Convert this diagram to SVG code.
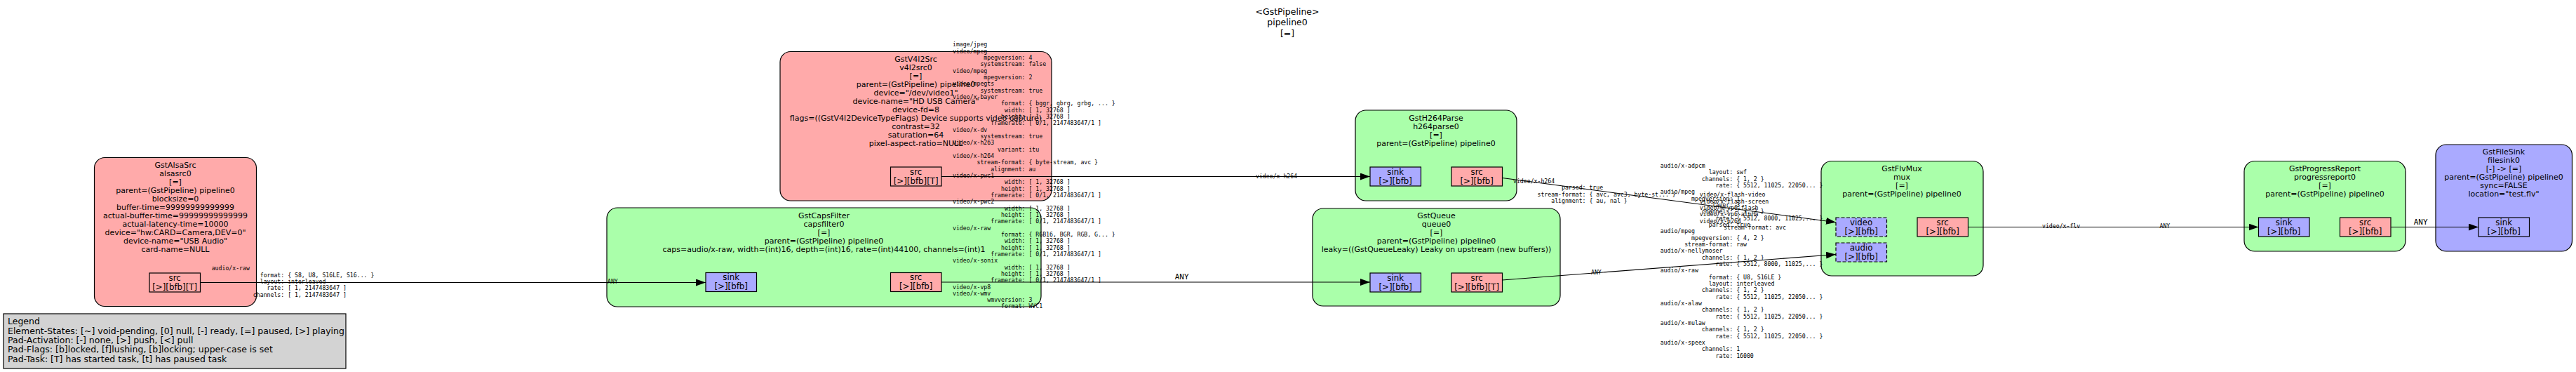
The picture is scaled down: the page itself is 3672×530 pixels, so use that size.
<svg xmlns="http://www.w3.org/2000/svg" width="3672" height="530" viewBox="0 0 3672 530">
<style>
.nb{stroke:#000;stroke-width:1.2}
.src{fill:#ffaaaa}.flt{fill:#aaffaa}.snk{fill:#aaaaff}
.pad{stroke:#000;stroke-width:1.2}
.dash{stroke-dasharray:5,2.5}
.t{font-family:"DejaVu Sans",sans-serif;font-size:11px;fill:#000;text-anchor:middle}
.g{font-family:"DejaVu Sans",sans-serif;font-size:12.5px;fill:#000}
.pt{font-family:"DejaVu Sans",sans-serif;font-size:11.8px;fill:#000;text-anchor:middle}
.c{font-family:"DejaVu Sans Mono",monospace;font-size:8.2px;fill:#000}
.l{font-family:"DejaVu Sans Mono",monospace;font-size:11px;fill:#000;text-anchor:middle}
.e{stroke:#000;stroke-width:1.1;fill:none}
</style>
<defs>
<marker id="arr" markerUnits="userSpaceOnUse" markerWidth="14" markerHeight="10" refX="14" refY="5" orient="auto" viewBox="0 0 14 10"><path d="M0,0 L14,5 L0,10 z" fill="#000"/></marker>
</defs>
<rect width="3672" height="530" fill="#fff"/>
<g id="title">
<text class="g" text-anchor="middle"><tspan x="1835" y="20.5">&lt;GstPipeline&gt;</tspan><tspan x="1835" y="36">pipeline0</tspan><tspan x="1835" y="51.5">[=]</tspan></text>
</g>
<g id="legend">
<rect x="5" y="447" width="488" height="78" fill="#d3d3d3" stroke="#000" stroke-width="1.2"/>
<text class="g"><tspan x="11" y="462.2">Legend</tspan><tspan x="11" y="475.6">Element-States: [~] void-pending, [0] null, [-] ready, [=] paused, [&gt;] playing</tspan><tspan x="11" y="489">Pad-Activation: [-] none, [&gt;] push, [&lt;] pull</tspan><tspan x="11" y="502.4">Pad-Flags: [b]locked, [f]lushing, [b]locking; upper-case is set</tspan><tspan x="11" y="515.8">Pad-Task: [T] has started task, [t] has paused task</tspan></text>
</g>
<g id="alsasrc0">
<rect class="nb src" x="134.5" y="224.5" width="231" height="212" rx="15"/>
<text class="t"><tspan x="250" y="239">GstAlsaSrc</tspan><tspan x="250" y="251">alsasrc0</tspan><tspan x="250" y="263">[=]</tspan><tspan x="250" y="275">parent=(GstPipeline) pipeline0</tspan><tspan x="250" y="287">blocksize=0</tspan><tspan x="250" y="299">buffer-time=99999999999999</tspan><tspan x="250" y="311">actual-buffer-time=99999999999999</tspan><tspan x="250" y="323">actual-latency-time=10000</tspan><tspan x="250" y="335">device="hw:CARD=Camera,DEV=0"</tspan><tspan x="250" y="347">device-name="USB Audio"</tspan><tspan x="250" y="359">card-name=NULL</tspan></text>
<rect class="pad src" x="213" y="389" width="72.5" height="27"/>
<text class="pt"><tspan x="249.2" y="399.7">src</tspan><tspan x="249.2" y="412.7">[&gt;][bfb][T]</tspan></text>
</g>
<g id="v4l2src0">
<rect class="nb src" x="1112" y="73.5" width="387" height="212.5" rx="15"/>
<text class="t"><tspan x="1305.5" y="88">GstV4l2Src</tspan><tspan x="1305.5" y="100">v4l2src0</tspan><tspan x="1305.5" y="112">[=]</tspan><tspan x="1305.5" y="124">parent=(GstPipeline) pipeline0</tspan><tspan x="1305.5" y="136">device="/dev/video1"</tspan><tspan x="1305.5" y="148">device-name="HD USB Camera"</tspan><tspan x="1305.5" y="160">device-fd=8</tspan><tspan x="1305.5" y="172">flags=((GstV4l2DeviceTypeFlags) Device supports video capture)</tspan><tspan x="1305.5" y="184">contrast=32</tspan><tspan x="1305.5" y="196">saturation=64</tspan><tspan x="1305.5" y="208">pixel-aspect-ratio=NULL</tspan></text>
<rect class="pad src" x="1269.5" y="238" width="72.5" height="27"/>
<text class="pt"><tspan x="1305.7" y="248.7">src</tspan><tspan x="1305.7" y="261.7">[&gt;][bfb][T]</tspan></text>
</g>
<g id="capsfilter0">
<rect class="nb flt" x="865" y="296" width="619" height="141" rx="15"/>
<text class="t"><tspan x="1174.5" y="311.3">GstCapsFilter</tspan><tspan x="1174.5" y="323.3">capsfilter0</tspan><tspan x="1174.5" y="335.3">[=]</tspan><tspan x="1174.5" y="347.3">parent=(GstPipeline) pipeline0</tspan><tspan x="1174.5" y="359.3">caps=audio/x-raw, width=(int)16, depth=(int)16, rate=(int)44100, channels=(int)1</tspan></text>
<rect class="pad snk" x="1006" y="388.5" width="72.5" height="27"/>
<text class="pt"><tspan x="1042.2" y="399.2">sink</tspan><tspan x="1042.2" y="412.2">[&gt;][bfb]</tspan></text>
<rect class="pad src" x="1269.5" y="388.5" width="72.5" height="27"/>
<text class="pt"><tspan x="1305.7" y="399.2">src</tspan><tspan x="1305.7" y="412.2">[&gt;][bfb]</tspan></text>
</g>
<g id="h264parse0">
<rect class="nb flt" x="1932" y="157" width="230" height="129" rx="15"/>
<text class="t"><tspan x="2047" y="172">GstH264Parse</tspan><tspan x="2047" y="184">h264parse0</tspan><tspan x="2047" y="196">[=]</tspan><tspan x="2047" y="208">parent=(GstPipeline) pipeline0</tspan></text>
<rect class="pad snk" x="1953" y="238" width="72.5" height="27"/>
<text class="pt"><tspan x="1989.2" y="248.7">sink</tspan><tspan x="1989.2" y="261.7">[&gt;][bfb]</tspan></text>
<rect class="pad src" x="2069" y="238" width="72.5" height="27"/>
<text class="pt"><tspan x="2105.2" y="248.7">src</tspan><tspan x="2105.2" y="261.7">[&gt;][bfb]</tspan></text>
</g>
<g id="queue0">
<rect class="nb flt" x="1871" y="297" width="353" height="139" rx="15"/>
<text class="t"><tspan x="2047.5" y="311">GstQueue</tspan><tspan x="2047.5" y="323">queue0</tspan><tspan x="2047.5" y="335">[=]</tspan><tspan x="2047.5" y="347">parent=(GstPipeline) pipeline0</tspan><tspan x="2047.5" y="359">leaky=((GstQueueLeaky) Leaky on upstream (new buffers))</tspan></text>
<rect class="pad snk" x="1953" y="389" width="72.5" height="27"/>
<text class="pt"><tspan x="1989.2" y="399.7">sink</tspan><tspan x="1989.2" y="412.7">[&gt;][bfb]</tspan></text>
<rect class="pad src" x="2069" y="389" width="72.5" height="27"/>
<text class="pt"><tspan x="2105.2" y="399.7">src</tspan><tspan x="2105.2" y="412.7">[&gt;][bfb][T]</tspan></text>
</g>
<g id="mux">
<rect class="nb flt" x="2596" y="229.5" width="231" height="163.5" rx="15"/>
<text class="t"><tspan x="2711" y="244">GstFlvMux</tspan><tspan x="2711" y="256">mux</tspan><tspan x="2711" y="268">[=]</tspan><tspan x="2711" y="280">parent=(GstPipeline) pipeline0</tspan></text>
<rect class="pad snk dash" x="2617" y="310" width="72.5" height="27"/>
<text class="pt"><tspan x="2653.2" y="320.7">video</tspan><tspan x="2653.2" y="333.7">[&gt;][bfb]</tspan></text>
<rect class="pad snk dash" x="2617" y="346" width="72.5" height="27"/>
<text class="pt"><tspan x="2653.2" y="356.7">audio</tspan><tspan x="2653.2" y="369.7">[&gt;][bfb]</tspan></text>
<rect class="pad src" x="2733" y="310" width="72.5" height="27"/>
<text class="pt"><tspan x="2769.2" y="320.7">src</tspan><tspan x="2769.2" y="333.7">[&gt;][bfb]</tspan></text>
</g>
<g id="progressreport0">
<rect class="nb flt" x="3199" y="229.5" width="230" height="128.5" rx="15"/>
<text class="t"><tspan x="3314" y="244">GstProgressReport</tspan><tspan x="3314" y="256">progressreport0</tspan><tspan x="3314" y="268">[=]</tspan><tspan x="3314" y="280">parent=(GstPipeline) pipeline0</tspan></text>
<rect class="pad snk" x="3219.5" y="310" width="72.5" height="27"/>
<text class="pt"><tspan x="3255.7" y="320.7">sink</tspan><tspan x="3255.7" y="333.7">[&gt;][bfb]</tspan></text>
<rect class="pad src" x="3335.5" y="310" width="72.5" height="27"/>
<text class="pt"><tspan x="3371.7" y="320.7">src</tspan><tspan x="3371.7" y="333.7">[&gt;][bfb]</tspan></text>
</g>
<g id="filesink0">
<rect class="nb snk" x="3472" y="206" width="194.5" height="152" rx="15"/>
<text class="t"><tspan x="3569" y="220">GstFileSink</tspan><tspan x="3569" y="232">filesink0</tspan><tspan x="3569" y="244">[-] -&gt; [=]</tspan><tspan x="3569" y="256">parent=(GstPipeline) pipeline0</tspan><tspan x="3569" y="268">sync=FALSE</tspan><tspan x="3569" y="280">location="test.flv"</tspan></text>
<rect class="pad snk" x="3533" y="310" width="72.5" height="27"/>
<text class="pt"><tspan x="3569.2" y="320.7">sink</tspan><tspan x="3569.2" y="333.7">[&gt;][bfb]</tspan></text>
</g>
<g id="connectors">
<path class="e" d="M285.5,402.5 L1006,402.5" marker-end="url(#arr)"/>
<path class="e" d="M1342,251.5 L1953,251.5" marker-end="url(#arr)"/>
<path class="e" d="M1342,402 L1953,402" marker-end="url(#arr)"/>
<path class="e" d="M2141.5,253.5 L2617,316.7" marker-end="url(#arr)"/>
<path class="e" d="M2141.5,399 L2617,362.5" marker-end="url(#arr)"/>
<path class="e" d="M2805.5,323.5 L3219.5,323.5" marker-end="url(#arr)"/>
<path class="e" d="M3408,323.5 L3533,323.5" marker-end="url(#arr)"/>
<text class="c" xml:space="preserve"><tspan x="301.7" y="385.3">audio/x-raw</tspan><tspan x="301.7" dy="9.33">              format: { S8, U8, S16LE, S16... }</tspan><tspan x="301.7" dy="9.33">              layout: interleaved</tspan><tspan x="301.7" dy="9.33">                rate: [ 1, 2147483647 ]</tspan><tspan x="301.7" dy="9.33">            channels: [ 1, 2147483647 ]</tspan></text>
<text class="c" x="866" y="404">ANY</text>
<text class="c" xml:space="preserve"><tspan x="1358" y="66.3">image/jpeg</tspan><tspan x="1358" dy="9.33">video/mpeg</tspan><tspan x="1358" dy="9.33">         mpegversion: 4</tspan><tspan x="1358" dy="9.33">        systemstream: false</tspan><tspan x="1358" dy="9.33">video/mpeg</tspan><tspan x="1358" dy="9.33">         mpegversion: 2</tspan><tspan x="1358" dy="9.33">video/mpegts</tspan><tspan x="1358" dy="9.33">        systemstream: true</tspan><tspan x="1358" dy="9.33">video/x-bayer</tspan><tspan x="1358" dy="9.33">              format: { bggr, gbrg, grbg, ... }</tspan><tspan x="1358" dy="9.33">               width: [ 1, 32768 ]</tspan><tspan x="1358" dy="9.33">              height: [ 1, 32768 ]</tspan><tspan x="1358" dy="9.33">           framerate: [ 0/1, 2147483647/1 ]</tspan><tspan x="1358" dy="9.33">video/x-dv</tspan><tspan x="1358" dy="9.33">        systemstream: true</tspan><tspan x="1358" dy="9.33">video/x-h263</tspan><tspan x="1358" dy="9.33">             variant: itu</tspan><tspan x="1358" dy="9.33">video/x-h264</tspan><tspan x="1358" dy="9.33">       stream-format: { byte-stream, avc }</tspan><tspan x="1358" dy="9.33">           alignment: au</tspan><tspan x="1358" dy="9.33">video/x-pwc1</tspan><tspan x="1358" dy="9.33">               width: [ 1, 32768 ]</tspan><tspan x="1358" dy="9.33">              height: [ 1, 32768 ]</tspan><tspan x="1358" dy="9.33">           framerate: [ 0/1, 2147483647/1 ]</tspan><tspan x="1358" dy="9.33">video/x-pwc2</tspan><tspan x="1358" dy="9.33">               width: [ 1, 32768 ]</tspan><tspan x="1358" dy="9.33">              height: [ 1, 32768 ]</tspan><tspan x="1358" dy="9.33">           framerate: [ 0/1, 2147483647/1 ]</tspan><tspan x="1358" dy="9.33">video/x-raw</tspan><tspan x="1358" dy="9.33">              format: { RGB16, BGR, RGB, G... }</tspan><tspan x="1358" dy="9.33">               width: [ 1, 32768 ]</tspan><tspan x="1358" dy="9.33">              height: [ 1, 32768 ]</tspan><tspan x="1358" dy="9.33">           framerate: [ 0/1, 2147483647/1 ]</tspan><tspan x="1358" dy="9.33">video/x-sonix</tspan><tspan x="1358" dy="9.33">               width: [ 1, 32768 ]</tspan><tspan x="1358" dy="9.33">              height: [ 1, 32768 ]</tspan><tspan x="1358" dy="9.33">           framerate: [ 0/1, 2147483647/1 ]</tspan><tspan x="1358" dy="9.33">video/x-vp8</tspan><tspan x="1358" dy="9.33">video/x-wmv</tspan><tspan x="1358" dy="9.33">          wmvversion: 3</tspan><tspan x="1358" dy="9.33">              format: WVC1</tspan></text>
<text class="c" x="1790" y="254">video/x-h264</text>
<text class="l" x="1684.7" y="398">ANY</text>
<text class="c" xml:space="preserve"><tspan x="2157" y="261">video/x-h264</tspan><tspan x="2157" dy="9.33">              parsed: true</tspan><tspan x="2157" dy="9.33">       stream-format: { avc, avc3, byte-st... }</tspan><tspan x="2157" dy="9.33">           alignment: { au, nal }</tspan></text>
<text class="c" x="2268" y="391">ANY</text>
<text class="c" xml:space="preserve"><tspan x="2366.7" y="239">audio/x-adpcm</tspan><tspan x="2366.7" dy="9.33">              layout: swf</tspan><tspan x="2366.7" dy="9.33">            channels: { 1, 2 }</tspan><tspan x="2366.7" dy="9.33">                rate: { 5512, 11025, 22050... }</tspan><tspan x="2366.7" dy="9.33">audio/mpeg</tspan><tspan x="2366.7" dy="9.33">         mpegversion: 1</tspan><tspan x="2366.7" dy="9.33">               layer: 3</tspan><tspan x="2366.7" dy="9.33">            channels: { 1, 2 }</tspan><tspan x="2366.7" dy="9.33">                rate: { 5512, 8000, 11025,... }</tspan><tspan x="2366.7" dy="9.33">              parsed: true</tspan><tspan x="2366.7" dy="9.33">audio/mpeg</tspan><tspan x="2366.7" dy="9.33">         mpegversion: { 4, 2 }</tspan><tspan x="2366.7" dy="9.33">       stream-format: raw</tspan><tspan x="2366.7" dy="9.33">audio/x-nellymoser</tspan><tspan x="2366.7" dy="9.33">            channels: { 1, 2 }</tspan><tspan x="2366.7" dy="9.33">                rate: { 5512, 8000, 11025,... }</tspan><tspan x="2366.7" dy="9.33">audio/x-raw</tspan><tspan x="2366.7" dy="9.33">              format: { U8, S16LE }</tspan><tspan x="2366.7" dy="9.33">              layout: interleaved</tspan><tspan x="2366.7" dy="9.33">            channels: { 1, 2 }</tspan><tspan x="2366.7" dy="9.33">                rate: { 5512, 11025, 22050... }</tspan><tspan x="2366.7" dy="9.33">audio/x-alaw</tspan><tspan x="2366.7" dy="9.33">            channels: { 1, 2 }</tspan><tspan x="2366.7" dy="9.33">                rate: { 5512, 11025, 22050... }</tspan><tspan x="2366.7" dy="9.33">audio/x-mulaw</tspan><tspan x="2366.7" dy="9.33">            channels: { 1, 2 }</tspan><tspan x="2366.7" dy="9.33">                rate: { 5512, 11025, 22050... }</tspan><tspan x="2366.7" dy="9.33">audio/x-speex</tspan><tspan x="2366.7" dy="9.33">            channels: 1</tspan><tspan x="2366.7" dy="9.33">                rate: 16000</tspan></text>
<text class="c" xml:space="preserve"><tspan x="2422.7" y="280.3">video/x-flash-video</tspan><tspan x="2422.7" dy="9.33">video/x-flash-screen</tspan><tspan x="2422.7" dy="9.33">video/x-vp6-flash</tspan><tspan x="2422.7" dy="9.33">video/x-vp6-alpha</tspan><tspan x="2422.7" dy="9.33">video/x-h264</tspan><tspan x="2422.7" dy="9.33">       stream-format: avc</tspan></text>
<text class="c" x="2911" y="325">video/x-flv</text>
<text class="c" x="3078.5" y="325">ANY</text>
<text class="l" x="3450.7" y="320">ANY</text>
</g>
</svg>
